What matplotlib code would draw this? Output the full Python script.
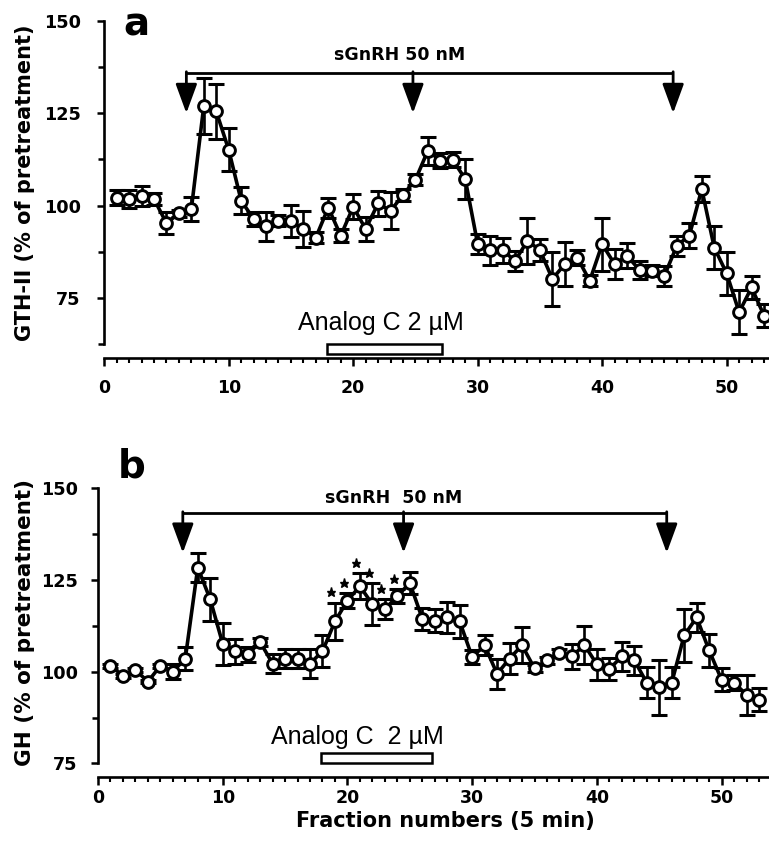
import matplotlib
matplotlib.use('Agg')
import matplotlib.pyplot as plt
from matplotlib.patches import Rectangle
from matplotlib.ticker import FixedLocator, MultipleLocator
import numpy as np

plt.rcParams['font.family'] = ['DejaVu Sans']

# fraction numbers (5 min each)
fractions = np.arange(1, 54)

# panel a: GTH-II (% of pretreatment), mean and SEM
gth_mean = [102.2, 101.8, 102.7, 101.8, 95.3, 97.9, 99.1, 127.0, 125.5, 115.1,
            101.4, 96.4, 94.4, 95.9, 95.9, 93.7, 91.4, 99.5, 91.9, 99.7,
            93.7, 100.6, 98.6, 102.9, 107.0, 114.9, 112.2, 112.4, 107.2, 89.6,
            88.0, 88.0, 85.1, 90.5, 88.0, 80.2, 84.2, 86.0, 79.7, 89.6,
            84.2, 86.5, 82.6, 82.4, 81.1, 89.2, 91.9, 104.5, 88.7, 81.7,
            71.2, 77.9, 70.3]
gth_sem = [2.0, 2.5, 2.7, 1.5, 3.0, 1.0, 3.2, 7.5, 7.4, 5.8,
           3.6, 2.0, 3.9, 1.5, 4.3, 4.8, 1.5, 2.7, 1.8, 3.4,
           3.2, 3.4, 5.0, 1.5, 1.5, 3.8, 2.0, 2.0, 5.4, 2.7,
           3.9, 3.4, 2.7, 6.3, 3.0, 7.2, 5.9, 2.0, 1.5, 7.2,
           4.0, 3.3, 2.5, 1.5, 2.7, 2.7, 3.3, 3.6, 5.9, 5.7,
           5.9, 3.2, 3.0]

# panel b: GH (% of pretreatment), mean and SEM
gh_mean = [101.6, 98.9, 100.5, 97.3, 101.6, 100.0, 103.6, 128.4, 119.7, 107.6,
           105.6, 104.7, 108.1, 102.2, 103.6, 103.6, 102.2, 105.6, 113.7, 119.4,
           123.3, 118.4, 117.0, 120.6, 124.2, 114.5, 113.9, 114.8, 113.7, 104.0,
           107.2, 99.4, 103.6, 107.2, 100.9, 103.1, 105.2, 104.2, 107.3, 102.0,
           100.7, 104.2, 103.1, 97.0, 95.7, 97.0, 109.9, 114.8, 105.8, 97.8,
           97.0, 93.7, 92.4]
gh_sem = [0.5, 0.5, 0.5, 0.5, 0.5, 2.0, 3.1, 3.9, 5.8, 5.8,
          3.4, 2.0, 1.0, 2.5, 2.7, 2.7, 4.0, 4.3, 5.1, 2.0,
          3.6, 5.8, 2.7, 2.0, 3.0, 3.0, 3.1, 4.2, 4.5, 2.0,
          2.7, 4.2, 4.2, 4.9, 1.0, 1.0, 1.0, 3.4, 5.2, 4.3,
          3.0, 3.9, 4.0, 4.3, 7.4, 4.3, 7.2, 4.0, 4.5, 3.1,
          2.0, 5.4, 3.1]
gh_star_fractions = [19, 20, 21, 22, 23, 24]

# treatments (fraction numbers)
gth_gnrh_pulses = [6.6, 24.8, 45.7]
gh_gnrh_pulses = [6.8, 24.5, 45.6]
gth_analog = [17.9, 27.1]
gh_analog = [17.9, 26.8]

BOLD = dict(fontweight='bold')


def draw_panel(ax, mean, sem, ylow, spine_low, minor_y, xmax, ypad, xpad):
    ax.errorbar(fractions, mean, yerr=sem, fmt='none', ecolor='black',
                elinewidth=1.9, capsize=6, capthick=2.2, zorder=2)
    ax.plot(fractions, mean, '-o', color='black', lw=2.6, ms=8.5,
            mfc='white', mec='black', mew=2.1, zorder=3)

    ax.set_xlim(0, xmax)
    ax.set_ylim(ylow, 150)

    for side in ['top', 'right']:
        ax.spines[side].set_visible(False)
    ax.spines['left'].set_bounds(spine_low, 150)
    ax.spines['left'].set_linewidth(1.9)
    ax.spines['bottom'].set_linewidth(1.9)

    ax.yaxis.set_major_locator(FixedLocator([75, 100, 125, 150]))
    ax.yaxis.set_minor_locator(FixedLocator(minor_y))
    ax.xaxis.set_major_locator(MultipleLocator(10))
    ax.xaxis.set_minor_locator(MultipleLocator(1))

    ax.tick_params(axis='y', which='major', direction='out', length=5, width=1.8,
                   pad=ypad, labelsize=12.7)
    ax.tick_params(axis='y', which='minor', direction='out', length=4, width=1.8)
    ax.tick_params(axis='x', which='major', direction='out', length=6, width=1.8,
                   pad=xpad, labelsize=12.5)
    ax.tick_params(axis='x', which='minor', direction='out', length=3.5, width=1.5)
    for lab in ax.get_xticklabels() + ax.get_yticklabels():
        lab.set_fontweight('bold')


def draw_gnrh(ax, pulses, top, tip, text_y, label):
    ax.plot([pulses[0], pulses[-1]], [top, top], color='black', lw=2.0,
            clip_on=False, solid_capstyle='butt')
    for x in pulses:
        ax.annotate('', xy=(x, tip), xytext=(x, top + 0.3),
                    arrowprops=dict(arrowstyle='-|>,head_length=0.9,head_width=0.33',
                                    color='black', lw=2.0, mutation_scale=20,
                                    shrinkA=0, shrinkB=0))
    ax.text(23.7, text_y, label, ha='center', va='center', fontsize=12.5, **BOLD)


def draw_analog(ax, span, y0, y1, text_x, text_y, label):
    ax.add_patch(Rectangle((span[0], y0), span[1] - span[0], y1 - y0,
                           facecolor='white', edgecolor='black', lw=1.8,
                           clip_on=False, zorder=4))
    ax.text(text_x, text_y, label, ha='center', va='center', fontsize=18,
            family='Liberation Sans')


fig = plt.figure(figsize=(7.69, 8.52), dpi=100)

# panel a
ax1 = fig.add_axes([104.2 / 769, 1 - 358 / 852, 1 - 104.2 / 769, (358 - 20.7) / 852])
draw_panel(ax1, gth_mean, gth_sem, 58.84, 62.5, [62.5, 87.5, 112.5, 137.5],
           53.4, 12, 9)
draw_gnrh(ax1, gth_gnrh_pulses, 135.9, 125.0, 140.7, 'sGnRH 50 nM')
draw_analog(ax1, gth_analog, 60.0, 62.7, 22.2, 68.4, 'Analog C 2 \u00b5M')

# panel b
ax2 = fig.add_axes([98 / 769, 1 - 777 / 852, 1 - 98 / 769, (777 - 488.3) / 852])
draw_panel(ax2, gh_mean, gh_sem, 71.3, 75, [87.5, 112.5, 137.5],
           53.8, 9.5, 2.5)
draw_gnrh(ax2, gh_gnrh_pulses, 143.3, 132.4, 147.4, 'sGnRH  50 nM')
draw_analog(ax2, gh_analog, 75.1, 77.8, 20.8, 82.2, 'Analog C  2 \u00b5M')

# significance stars above the error bars
idx = [f - 1 for f in gh_star_fractions]
star_y = np.array(gh_mean)[idx] + np.array(gh_sem)[idx] + 2.8
ax2.plot(np.array(gh_star_fractions) - 0.3, star_y, ls='none', marker='*',
         ms=6.5, color='black', zorder=4)

# panel letters, axis titles
fig.text(136 / 769, 1 - 25 / 852, 'a', ha='center', va='center', fontsize=28, **BOLD)
fig.text(132 / 769, 1 - 466 / 852, 'b', ha='center', va='center', fontsize=28, **BOLD)
fig.text(25 / 769, 1 - 183 / 852, 'GTH-II (% of pretreatment)', rotation=90,
         ha='center', va='center', fontsize=15, **BOLD)
fig.text(25 / 769, 1 - 623 / 852, 'GH (% of pretreatment)', rotation=90,
         ha='center', va='center', fontsize=15.5, **BOLD)
fig.text(445 / 769, 1 - 821 / 852, 'Fraction numbers (5 min)', ha='center',
         va='center', fontsize=15, **BOLD)

fig.savefig('out.png', dpi=100)
